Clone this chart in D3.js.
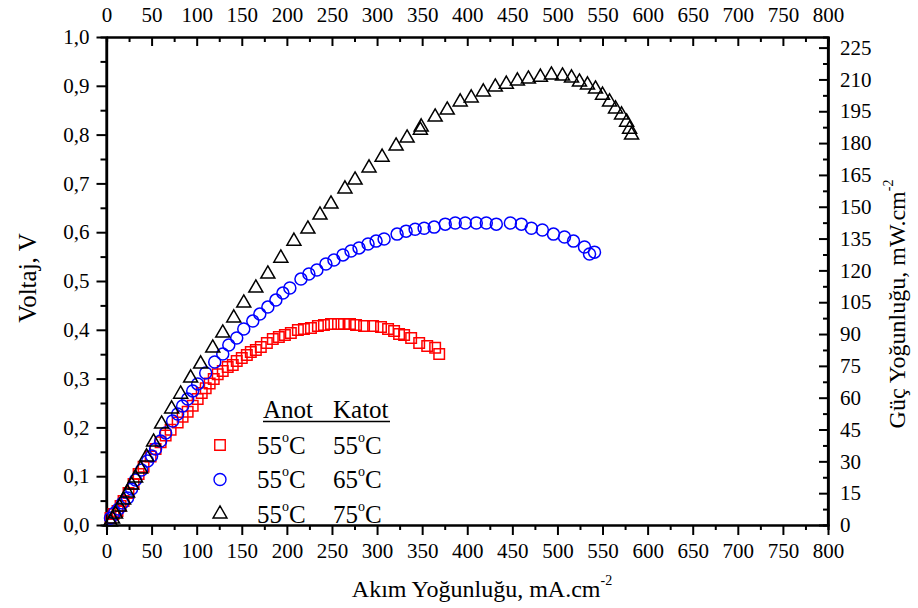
<!DOCTYPE html>
<html>
<head>
<meta charset="utf-8">
<script src="https://cdn.jsdelivr.net/npm/d3@7"></script>
<style>
  html, body { margin: 0; padding: 0; background: #fff; }
  svg { display: block; font-family: "Liberation Serif", "Times New Roman", serif; }
</style>
</head>
<body>
<svg id="chart" width="918" height="608"></svg>
<script>
// Power density (mW/cm^2) vs current density (mA/cm^2); anode 55 °C, cathode at three temperatures
const series55 = [[4.4,3.3],[7.8,5.2],[12.2,6.6],[15.6,9.0],[18.9,11.3],[24.4,15.1],[30.0,19.3],[35.6,24.0],[41.1,27.5],[48.9,32.3],[54.4,35.8],[60.0,39.0],[65.6,42.2],[71.1,44.9],[78.9,48.3],[84.4,51.0],[90.0,53.4],[95.6,56.2],[101.1,59.4],[105.6,62.2],[110.0,64.4],[114.4,66.7],[118.9,68.8],[123.3,71.0],[128.9,72.6],[134.4,74.5],[140.0,75.4],[144.4,77.3],[150.0,78.7],[155.6,80.1],[160.0,81.5],[165.6,82.5],[171.1,83.9],[177.8,85.8],[184.4,87.7],[191.1,88.6],[197.8,89.5],[204.4,90.5],[212.2,91.9],[218.9,92.4],[226.7,92.8],[234.4,93.8],[241.1,94.3],[248.9,94.7],[256.7,94.7],[263.3,94.7],[270.0,94.7],[276.7,94.3],[285.6,93.8],[295.6,93.8],[304.4,93.3],[312.2,92.4],[318.9,91.4],[324.4,90.0],[330.0,89.5],[337.8,88.1],[346.7,85.8],[355.6,84.4],[364.4,83.5],[368.9,80.6]];

const series65 = [[4.4,3.3],[8.9,5.7],[13.3,7.5],[17.8,10.4],[23.3,12.7],[27.8,17.0],[32.2,21.2],[38.9,25.9],[45.6,30.2],[50.0,32.5],[54.4,35.8],[60.0,39.6],[65.6,43.4],[73.3,49.0],[78.9,52.3],[84.4,56.1],[90.0,59.4],[95.6,63.2],[101.1,66.5],[110.0,71.6],[120.0,76.8],[128.9,80.6],[135.6,84.8],[144.4,88.1],[152.2,92.4],[162.2,96.1],[170.0,99.4],[178.9,102.7],[187.8,106.0],[195.6,109.3],[203.3,111.7],[215.6,115.9],[224.4,118.3],[233.3,120.2],[243.3,123.0],[252.2,124.9],[262.2,127.3],[271.1,129.1],[280.0,130.6],[290.0,132.4],[298.9,133.8],[307.8,134.8],[322.2,137.1],[332.2,138.5],[342.2,139.4],[352.2,139.9],[363.3,140.4],[375.6,141.8],[386.7,142.3],[397.8,142.3],[410.0,142.3],[421.1,142.3],[432.2,141.8],[447.8,142.3],[460.0,141.8],[471.1,139.9],[483.3,139.0],[495.6,137.1],[507.8,135.7],[517.8,133.8],[530.0,131.0],[535.6,127.7],[541.1,128.6]];

const series75 = [[4.4,1.4],[6.7,2.8],[10.0,5.2],[14.4,8.5],[18.9,11.8],[23.3,15.1],[27.8,18.9],[32.2,22.2],[37.8,26.4],[44.4,32.1],[52.2,39.1],[61.1,47.6],[72.2,54.7],[82.2,61.7],[93.3,69.3],[104.4,75.9],[117.8,83.4],[128.9,90.5],[141.1,97.6],[152.2,104.6],[165.6,111.7],[178.9,118.3],[193.3,125.8],[207.8,133.8],[223.3,139.5],[236.7,146.1],[248.9,151.3],[264.4,158.4],[275.6,162.6],[291.1,168.3],[305.6,173.4],[321.1,178.6],[333.3,182.4],[348.0,186.1],[348.9,187.6],[364.4,192.3],[377.8,195.6],[392.2,199.4],[404.4,201.3],[417.8,204.1],[431.1,206.4],[443.3,207.8],[455.6,209.3],[467.8,210.2],[481.1,211.1],[493.3,212.1],[505.6,211.6],[515.6,210.7],[524.4,208.8],[533.3,207.4],[542.2,205.5],[550.0,202.6],[557.8,199.4],[564.4,196.1],[571.1,193.3],[576.7,189.9],[580.0,186.6],[582.2,183.8]];

const currentTicks = [0,50,100,150,200,250,300,350,400,450,500,550,600,650,700,750,800];
const voltageTicks = [0,0.1,0.2,0.3,0.4,0.5,0.6,0.7,0.8,0.9,1.0];
const powerTicks = [0,15,30,45,60,75,90,105,120,135,150,165,180,195,210,225];

const legendHeader = ["Anot", "Katot"];
const legendRows = [
  { anode: "55", cathode: "55", color: "#ff0000", shape: "square" },
  { anode: "55", cathode: "65", color: "#0000ff", shape: "circle" },
  { anode: "55", cathode: "75", color: "#000000", shape: "triangle" }
];

const svg = d3.select("#chart");
const L = 106.5, R = 828, T = 37, B = 525;

const x = d3.scaleLinear().domain([0, 800]).range([L, R]);
const yV = d3.scaleLinear().domain([0, 1]).range([B, T]);
const yP = d3.scaleLinear().domain([0, 230]).range([B, T]);

const fmtComma = d => d3.format(".1f")(d).replace(".", ",");
const minorOf = (arr) => arr.slice(0, -1).map((v, i) => (v + arr[i + 1]) / 2);

function styleAxis(g, fontSize) {
  g.select(".domain").attr("stroke", "#000").attr("stroke-width", 2.2);
  g.selectAll(".tick line").attr("stroke", "#000").attr("stroke-width", 2);
  g.selectAll(".tick text").attr("fill", "#000").attr("font-size", fontSize)
    .attr("font-family", '"Liberation Serif", "Times New Roman", serif');
}

// Bottom axis (outward ticks)
svg.append("g").attr("transform", `translate(0,${B})`)
  .call(d3.axisBottom(x).tickValues(minorOf(currentTicks)).tickSize(5).tickFormat(""))
  .call(g => styleAxis(g, 21));
svg.append("g").attr("transform", `translate(0,${B})`)
  .call(d3.axisBottom(x).tickValues(currentTicks).tickSizeInner(10).tickSizeOuter(0).tickPadding(8).tickFormat(d3.format("d")))
  .call(g => styleAxis(g, 21));

// Top axis (inward ticks)
svg.append("g").attr("transform", `translate(0,${T})`)
  .call(d3.axisTop(x).tickValues(minorOf(currentTicks)).tickSize(-5).tickFormat(""))
  .call(g => styleAxis(g, 21));
svg.append("g").attr("transform", `translate(0,${T})`)
  .call(d3.axisTop(x).tickValues(currentTicks).tickSizeInner(-9).tickSizeOuter(0).tickPadding(15).tickFormat(d3.format("d")))
  .call(g => styleAxis(g, 21));

// Left voltage axis (outward ticks)
svg.append("g").attr("transform", `translate(${L},0)`)
  .call(d3.axisLeft(yV).tickValues(minorOf(voltageTicks)).tickSize(6).tickFormat(""))
  .call(g => styleAxis(g, 21));
svg.append("g").attr("transform", `translate(${L},0)`)
  .call(d3.axisLeft(yV).tickValues(voltageTicks).tickSizeInner(10).tickSizeOuter(0).tickPadding(7).tickFormat(fmtComma))
  .call(g => styleAxis(g, 21));

// Right power axis (inward ticks)
svg.append("g").attr("transform", `translate(${R},0)`)
  .call(d3.axisRight(yP).tickValues(minorOf(powerTicks)).tickSize(-5).tickFormat(""))
  .call(g => styleAxis(g, 21));
svg.append("g").attr("transform", `translate(${R},0)`)
  .call(d3.axisRight(yP).tickValues(powerTicks).tickSizeInner(-9).tickSizeOuter(0).tickPadding(12).tickFormat(d3.format("d")))
  .call(g => styleAxis(g, 21));

// Frame edges not covered by the axes above
svg.append("line").attr("x1", L).attr("x2", L).attr("y1", T).attr("y2", B).attr("stroke", "#000").attr("stroke-width", 2.2);
svg.append("line").attr("x1", R).attr("x2", R).attr("y1", T).attr("y2", B).attr("stroke", "#000").attr("stroke-width", 2.2);

// Axis titles
const bt = svg.append("text").attr("x", 482).attr("y", 597).attr("text-anchor", "middle")
  .attr("font-size", 24).attr("fill", "#000");
bt.append("tspan").text("Akım Yoğunluğu, mA.cm");
bt.append("tspan").attr("font-size", 14).attr("dy", -12).text("-2");

svg.append("text").attr("transform", "translate(36,278) rotate(-90)").attr("text-anchor", "middle")
  .attr("font-size", 25).attr("fill", "#000").text("Voltaj, V");

const rt = svg.append("text").attr("transform", "translate(905,304) rotate(-90)").attr("text-anchor", "middle")
  .attr("font-size", 24).attr("fill", "#000");
rt.append("tspan").text("Güç Yoğunluğu, mW.cm");
rt.append("tspan").attr("font-size", 14).attr("dy", -12).text("-2");

// Markers
const symbolFor = { square: d3.symbolSquare, circle: d3.symbolCircle, triangle: d3.symbolTriangle };
const sizeFor = { square: 110, circle: 113, triangle: 85 };
function drawSeries(data, color, shape) {
  svg.append("g").selectAll("path").data(data).join("path")
    .attr("transform", d => `translate(${x(d[0])},${yP(d[1])})`)
    .attr("d", d3.symbol(symbolFor[shape], sizeFor[shape]))
    .attr("fill", "none").attr("stroke", color).attr("stroke-width", 1.5);
}
drawSeries(series55, "#ff0000", "square");
drawSeries(series65, "#0000ff", "circle");
drawSeries(series75, "#000000", "triangle");

// Legend
const lg = svg.append("g");
lg.append("text").attr("x", 263).attr("y", 418).attr("font-size", 25).attr("fill", "#000").text(legendHeader[0]);
lg.append("text").attr("x", 333).attr("y", 418).attr("font-size", 25).attr("fill", "#000").text(legendHeader[1]);
lg.append("line").attr("x1", 263).attr("x2", 390).attr("y1", 421.5).attr("y2", 421.5).attr("stroke", "#000").attr("stroke-width", 1.4);

legendRows.forEach((r, i) => {
  const cy = 445 + i * 34.5;
  lg.append("path").attr("transform", `translate(220,${cy})`)
    .attr("d", d3.symbol(symbolFor[r.shape], sizeFor[r.shape]))
    .attr("fill", "none").attr("stroke", r.color).attr("stroke-width", 1.4);
  [[257, r.anode], [333, r.cathode]].forEach(([tx, val]) => {
    const t = lg.append("text").attr("x", tx).attr("y", cy + 8.5).attr("font-size", 25).attr("fill", "#000");
    t.append("tspan").text(val);
    t.append("tspan").attr("font-size", 14).attr("dy", -12).text("o");
    t.append("tspan").attr("dy", 12).text("C");
  });
});
</script>
</body>
</html>
